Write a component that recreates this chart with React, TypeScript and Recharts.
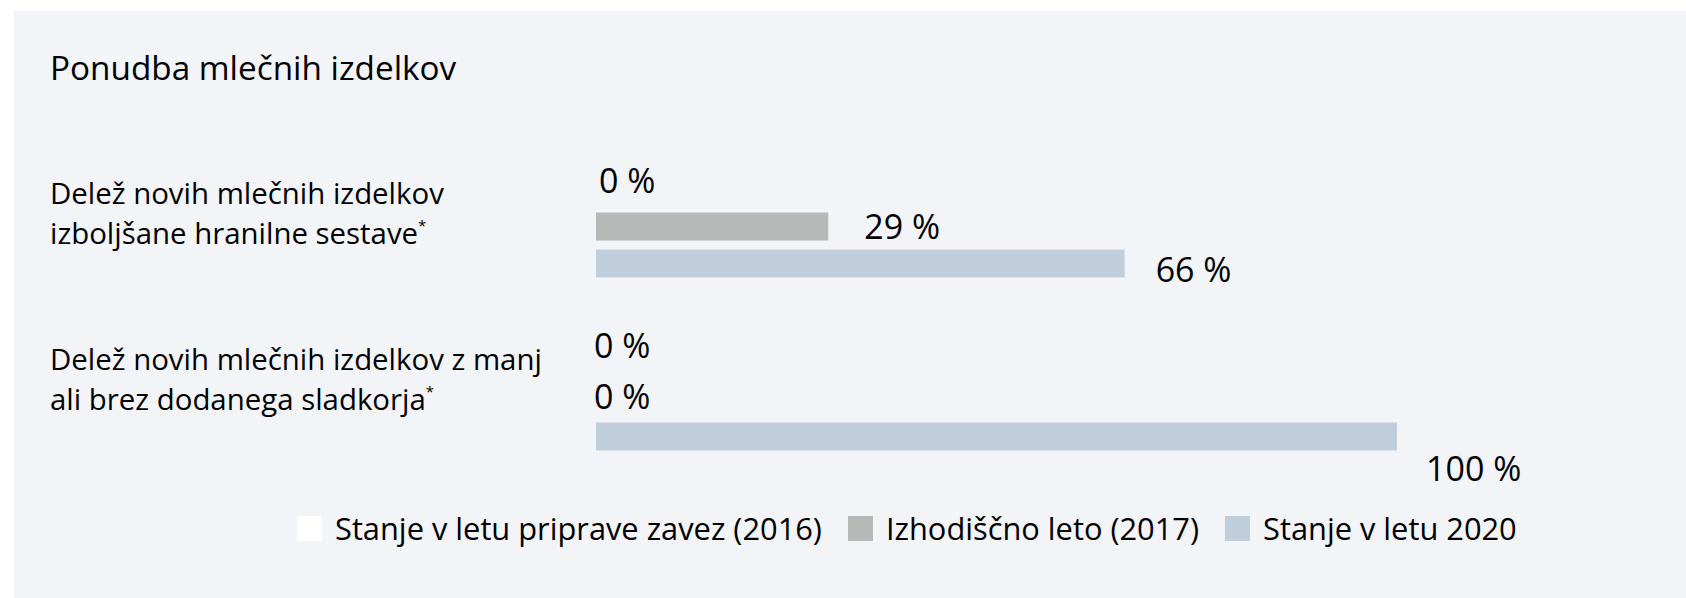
import { Bar, BarChart, LabelList, Legend, XAxis, YAxis } from "recharts"

const TITLE = "Ponudba mlečnih izdelkov"

const CATEGORY_LINES = [
  ["Delež novih mlečnih izdelkov", "izboljšane hranilne sestave"],
  ["Delež novih mlečnih izdelkov z manj", "ali brez dodanega sladkorja"],
]

const SERIES_NAMES = [
  "Stanje v letu priprave zavez (2016)",
  "Izhodiščno leto (2017)",
  "Stanje v letu 2020",
]

const VALUES_2016 = [0, 0]
const VALUES_2017 = [29, 0]
const VALUES_2020 = [66, 100]

const FONT = '"Open Sans", sans-serif'
const COLORS = ["#FFFFFF", "#B5BAB9", "#C0CEDC"]

// hand-placed label offsets (dx from bar end, dy from bar centre), like the original
const LABEL_NUDGE: Record<string, [number, number][]> = {
  v2016: [[3, -9], [-2, -17]],
  v2017: [[36, 0], [-2, -3]],
  v2020: [[31, 6], [29, 32]],
}
// baseline offsets of the two tick lines from the band centre
const TICK_LINE_DY = [
  [-22, 18],
  [-29, 11],
]

const data = CATEGORY_LINES.map((lines, i) => ({
  name: lines.join(" "),
  v2016: VALUES_2016[i],
  v2017: VALUES_2017[i],
  v2020: VALUES_2020[i],
}))

function CategoryTick({ y, index }: any) {
  const lines = CATEGORY_LINES[index] ?? []
  const dys = TICK_LINE_DY[index] ?? [-25, 15]
  return (
    <text x={36} y={y} fontFamily={FONT} fontSize={29.4} fill="#000">
      {lines.map((line, i) => (
        <tspan key={i} x={36} y={y + dys[i]}>
          {line}
          {i === lines.length - 1 && (
            <tspan fontSize={15} dy={-13}>
              *
            </tspan>
          )}
        </tspan>
      ))}
    </text>
  )
}

const makeLabel = (key: string) => (props: any) => {
  const vb = props.viewBox ?? props
  const x = Number(props.x ?? vb.x)
  const y = Number(props.y ?? vb.y)
  const h = Number(props.height ?? vb.height)
  const w = props.value === 0 ? 0 : Number(props.width ?? vb.width)
  const [dx, dy] = LABEL_NUDGE[key][props.index] ?? [30, 0]
  return (
    <text x={x + w + dx} y={y + h / 2 + dy + 12} fontFamily={FONT} fontSize={34} fill="#000">
      {`${props.value} %`}
    </text>
  )
}

function LegendContent() {
  return (
    <div style={{ display: "flex", alignItems: "center", fontFamily: FONT, fontSize: 30.8, color: "#000" }}>
      {SERIES_NAMES.map((name, i) => (
        <div key={name} style={{ display: "flex", alignItems: "center", marginRight: 26 }}>
          <span style={{ width: 25, height: 25, background: COLORS[i], marginRight: 13, display: "inline-block" }} />
          <span>{name}</span>
        </div>
      ))}
    </div>
  )
}

export default function App() {
  const keys = ["v2016", "v2017", "v2020"]
  return (
    <div
      style={{
        position: "fixed",
        left: 14,
        top: 11,
        width: 1672,
        height: 587,
        background: "#F3F4F8",
      }}
    >
      <svg width={700} height={100} style={{ position: "absolute", left: 0, top: 0 }}>
        <text x={36} y={69} fontFamily={FONT} fontSize={33.3} fill="#000">
          {TITLE}
        </text>
      </svg>
      <div style={{ position: "absolute", left: 0, top: 0 }}>
        <BarChart
          width={1672}
          height={587}
          data={data}
          layout="vertical"
          margin={{ top: 128.5, right: 289, bottom: 112.5, left: 0 }}
          barSize={28}
          barGap={9}
        >
          <XAxis type="number" domain={[0, 100]} hide />
          <YAxis
            type="category"
            dataKey="name"
            width={582}
            axisLine={false}
            tickLine={false}
            interval={0}
            tick={(p: any) => <CategoryTick {...p} />}
          />
          <Legend
            layout="horizontal"
            verticalAlign="middle"
            align="center"
            wrapperStyle={{ left: 283, top: 496, width: 1300 }}
            content={() => <LegendContent />}
          />
          {keys.map((key, i) => (
            <Bar
              key={key}
              dataKey={key}
              name={SERIES_NAMES[i]}
              fill={COLORS[i]}
              minPointSize={0.01}
              isAnimationActive={false}
            >
              <LabelList dataKey={key} content={makeLabel(key)} />
            </Bar>
          ))}
        </BarChart>
      </div>
    </div>
  )
}
